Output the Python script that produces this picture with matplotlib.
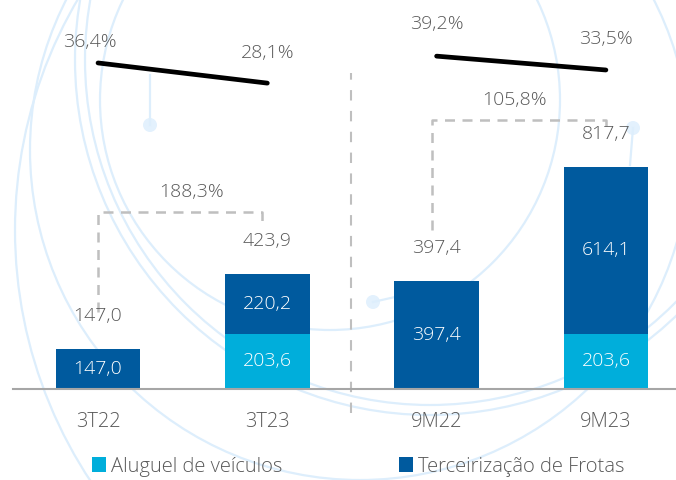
import numpy as np
import matplotlib
matplotlib.use("Agg")
import matplotlib.pyplot as plt
from matplotlib.patches import Circle

categories = ["3T22", "3T23", "9M22", "9M23"]
aluguel = [0.0, 203.6, 0.0, 203.6]
terceirizacao = [147.0, 220.2, 397.4, 614.1]
totals = [147.0, 423.9, 397.4, 817.7]
margins = [36.4, 28.1, 39.2, 33.5]
growth = ["188,3%", "105,8%"]

dark = "#005a9e"
light = "#00aedb"
gray_txt = "#595959"
deco = "#ddeefc"

plt.rcParams["font.family"] = ["Open Sans", "DejaVu Sans"]

def br(v, dec=1):
    return f"{v:.{dec}f}".replace(".", ",")

fig = plt.figure(figsize=(6.76, 4.8), dpi=100)

# faint decorative background arcs (pixel space, y down)
bg = fig.add_axes([0, 0, 1, 1])
bg.set_xlim(0, 676)
bg.set_ylim(480, 0)
bg.axis("off")
for (cx, cy), r in [((430, 60), 355), ((430, 60), 345), ((330, 100), 230),
                    ((470, 230), 455), ((360, 150), 330)]:
    bg.add_patch(Circle((cx, cy), r, fill=False, color=deco, lw=1.6))
for cx, cy in [(150, 125), (633, 128), (373, 302)]:
    bg.add_patch(Circle((cx, cy), 7, color="#e3f1fd", lw=0))
bg.plot([150, 150], [125, 75], color=deco, lw=1.6)
bg.plot([633, 630], [128, 165], color=deco, lw=1.6)
bg.plot([373, 395], [302, 297], color=deco, lw=1.6)

ax = fig.add_axes([0, 0, 1, 1], zorder=2)
ax.patch.set_visible(False)
ax.set_xlim(-0.579, 3.414)
ax.set_ylim(-335, 1433)
ax.axis("off")

x = np.arange(len(categories))
w = 0.5
b1 = ax.bar(x, aluguel, w, color=light, label="Aluguel de veículos")
b2 = ax.bar(x, terceirizacao, w, bottom=aluguel, color=dark, label="Terceirização de Frotas")

fs = 14
for i in range(len(x)):
    if aluguel[i] > 0:
        ax.text(x[i], aluguel[i] / 2, br(aluguel[i]), ha="center", va="center",
                color="white", fontsize=fs, fontweight="light")
    ax.text(x[i], aluguel[i] + terceirizacao[i] / 2, br(terceirizacao[i]), ha="center",
            va="center", color="white", fontsize=fs, fontweight="light")
    ax.annotate(br(totals[i]), (x[i], totals[i]), xytext=(0, 24), textcoords="offset points",
                ha="center", va="center", color=gray_txt, fontsize=fs, fontweight="light")
    ax.text(x[i], -122, categories[i], ha="center", va="center", color=gray_txt,
            fontsize=fs + 0.5, fontweight="light")

# baseline and separator
ax.plot([-0.50, 3.414], [0, 0], color="#a6a6a6", lw=1.5, zorder=3)
ax.plot([1.494, 1.494], [-88, 1164], color="#bfbfbf", lw=1.5, ls=(0, (5, 5)))

# growth brackets
bk = dict(color="#bfbfbf", lw=1.8, ls=(0, (4, 3)))
ax.plot([0, 0, 0.969, 0.969], [284, 652, 652, 619], **bk)
ax.plot([1.973, 1.973, 3.0, 3.0], [586, 991, 991, 954], **bk)
ax.text(0.55, 726, growth[0], ha="center", va="center", color=gray_txt, fontsize=fs, fontweight="light")
ax.text(2.46, 1064, growth[1], ha="center", va="center", color=gray_txt, fontsize=fs, fontweight="light")

# margin lines on a secondary scale
ax2 = ax.twinx()
ax2.set_position([0, 0, 1, 1])
ax2.set_ylim(-135.2, 62.3)
ax2.axis("off")
ax2.plot(x[:2], margins[:2], color="black", lw=3.4, solid_capstyle="round")
ax2.plot(x[2:], margins[2:], color="black", lw=3.4, solid_capstyle="round")
offs = [(-6, 15), (0, 22), (0, 23), (0, 22)]
for i in range(len(x)):
    ax2.annotate(br(margins[i]) + "%", (x[i], margins[i]), xytext=offs[i],
                 textcoords="offset points", ha="center", va="center",
                 color=gray_txt, fontsize=fs, fontweight="light")

leg = ax.legend(handles=[b1, b2], loc="center", bbox_to_anchor=(0.530, 0.028),
                bbox_transform=fig.transFigure, ncol=2, frameon=False,
                handlelength=0.7, handleheight=0.7, handletextpad=0.25,
                columnspacing=5.8, prop={"size": 14.5, "weight": "light"})
for t in leg.get_texts():
    t.set_color(gray_txt)

fig.savefig("out.png", dpi=100)
